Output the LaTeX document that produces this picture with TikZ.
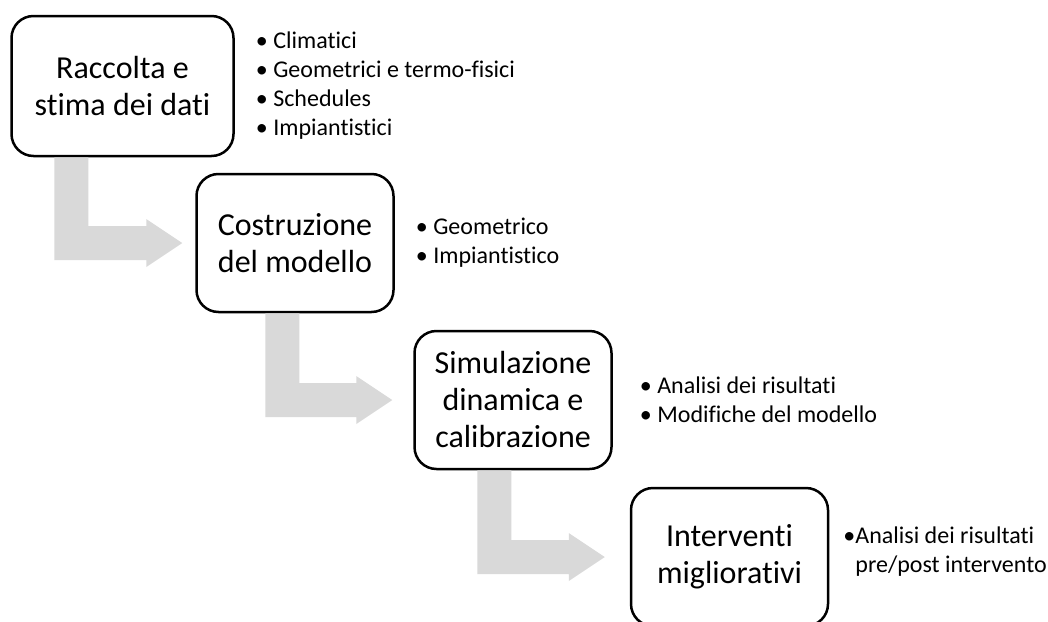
\documentclass[tikz,border=0pt]{standalone}
\usepackage{fontspec}
\setmainfont{Carlito}[Ligatures=NoCommon]
\usetikzlibrary{positioning}
\usetikzlibrary{calc}

\definecolor{flowgray}{HTML}{D9D9D9}

\tikzset{
  stepbox/.style={draw=black, line width=2.5pt, rounded corners=22pt, fill=white,
    minimum width=197pt, minimum height=138pt, align=center, inner sep=4pt,
    font=\fontsize{32}{37}\selectfont},
  bulletlist/.style={align=left, inner sep=0pt, font=\fontsize{24}{29}\selectfont},
}

% bent grey arrow: #1 top left of the stem, #2 tip
\newcommand{\bentarrow}[2]{%
  \fill[flowgray] let \p1=(#1), \p2=(#2) in
    (\x1,\y1) -- (\x1,\y2-17pt) -- (\x2-36pt,\y2-17pt) -- (\x2-36pt,\y2-24pt)
    -- (\x2,\y2) -- (\x2-36pt,\y2+24pt) -- (\x2-36pt,\y2+17pt)
    -- (\x1+34pt,\y2+17pt) -- (\x1+34pt,\y1) -- cycle;}

\begin{document}
\begin{tikzpicture}[x=1pt,y=-1pt]
  \clip (0,0) rectangle (1048,621);
  \fill[white] (0,0) rectangle (1048,621);

  \node[stepbox, minimum width=222pt, minimum height=140pt] (raccolta) at (122.5,86) {Raccolta e\\stima dei dati};
  \node[stepbox] (modello) at (295,243) {Costruzione\\del modello};
  \node[stepbox] (simulazione) at (513,400) {Simulazione\\dinamica e\\calibrazione};
  \node[stepbox] (interventi) at (729.5,557) {Interventi\\migliorativi};

  \node[bulletlist, right=21pt of raccolta] (datilist) {• Climatici\\• Geometrici e termo-fisici\\• Schedules\\• Impiantistici};
  \node[bulletlist, right=21pt of modello] (modellolist) {• Geometrico\\• Impiantistico};
  \node[bulletlist, right=27pt of simulazione] (simlist) {• Analisi dei risultati\\• Modifiche del modello};
  \node[bulletlist, right=14pt of interventi, yshift=5pt] (intlist) {•Analisi dei risultati\\\phantom{•}pre/post intervento};

  % arrows between the steps
  \coordinate (top1) at ([xshift=44pt]raccolta.south west);
  \coordinate (tip1) at ([xshift=-13pt]modello.west);
  \coordinate (top2) at ([xshift=70pt]modello.south west);
  \coordinate (tip2) at ([xshift=-21pt]simulazione.west);
  \coordinate (top3) at ([xshift=64pt]simulazione.south west);
  \coordinate (tip3) at ([xshift=-25pt]interventi.west);
  \bentarrow{top1}{tip1}
  \bentarrow{top2}{tip2}
  \bentarrow{top3}{tip3}
\end{tikzpicture}
\end{document}
